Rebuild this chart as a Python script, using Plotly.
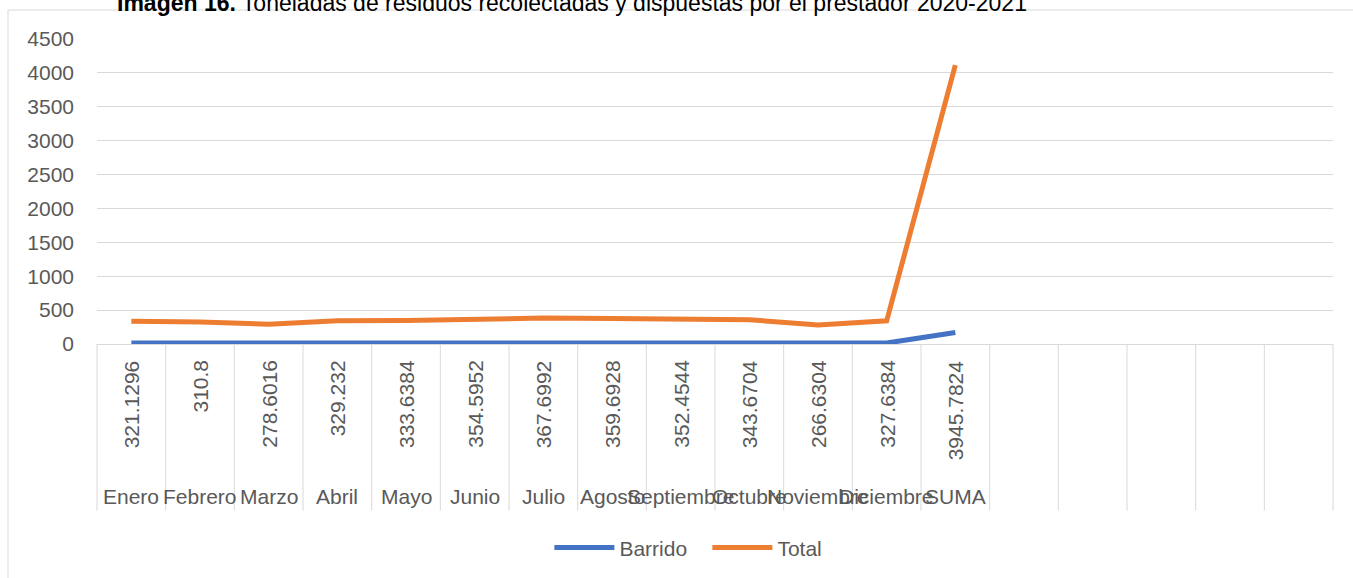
import plotly.graph_objects as go

# Months plus the annual sum, then empty slots that keep the category grid
months = ["Enero", "Febrero", "Marzo", "Abril", "Mayo", "Junio", "Julio",
          "Agosto", "Septiembre", "Octubre", "Noviembre", "Diciembre", "SUMA"]
empty_slots = [" " * (i + 1) for i in range(5)]

# Tonnes collected (shown as the inner category level)
recoleccion = [321.1296, 310.8, 278.6016, 329.232, 333.6384, 354.5952, 367.6992,
               359.6928, 352.4544, 343.6704, 266.6304, 327.6384, 3945.7824]

# Series values
barrido = [13.6, 13.6, 13.6, 14.2, 14.2, 14.2, 14.8, 14.8, 14.8, 14.2, 13.6, 14.2, 169.8]
total = [334.7, 324.4, 292.2, 343.4, 347.8, 368.8, 382.5, 374.5, 367.3, 357.9,
         280.2, 341.8, 4115.6]

categories = months + empty_slots
n_cat = len(categories)

FONT = "Liberation Sans, Arial, sans-serif"
GRID = "#d9d9d9"
TXT = "#595959"

fig = go.Figure()
fig.add_trace(go.Scatter(x=months, y=barrido, name="Barrido", mode="lines",
                         line=dict(color="#4472C4", width=5)))
fig.add_trace(go.Scatter(x=months, y=total, name="Total", mode="lines",
                         line=dict(color="#ED7D31", width=5)))

annotations = []
# Inner level: collected tonnes, rotated
for m, v in zip(months, recoleccion):
    annotations.append(dict(x=m, xref="x", y=0, yref="paper", yanchor="top",
                            yshift=-14, text=str(v), textangle=-90, showarrow=False,
                            font=dict(family=FONT, size=21, color=TXT)))
# Outer level: month names
for m in months:
    annotations.append(dict(x=m, xref="x", y=0, yref="paper", yanchor="middle",
                            yshift=-152, text=m, showarrow=False,
                            font=dict(family=FONT, size=21, color=TXT)))
# Title, partly above the top edge of the page
annotations.append(dict(
    x=0.384, xref="paper", xanchor="center", y=1.0, yref="paper", yanchor="bottom",
    yshift=21,
    text="<b>Imagen 16.</b> Toneladas de residuos recolectadas y dispuestas por el prestador 2020-2021",
    showarrow=False, font=dict(family=FONT, size=23, color="#000000")))

shapes = []
# Category dividers below the plot area
for i in range(n_cat + 1):
    shapes.append(dict(type="line", xref="paper", yref="paper",
                       x0=i / n_cat, x1=i / n_cat, y0=0, y1=-0.546,
                       line=dict(color=GRID, width=1)))
# Chart frame
shapes.append(dict(type="rect", xref="paper", yref="paper",
                   x0=-0.072, x1=1.1, y0=-0.8, y1=1.095,
                   line=dict(color=GRID, width=1), fillcolor="rgba(0,0,0,0)"))

fig.update_layout(
    width=1353, height=578, autosize=False,
    margin=dict(l=97, r=20, t=39, b=233),
    paper_bgcolor="white", plot_bgcolor="white",
    font=dict(family=FONT, size=21, color=TXT),
    xaxis=dict(type="category", categoryorder="array", categoryarray=categories,
               range=[-0.5, n_cat - 0.5], showticklabels=False, showgrid=False,
               zeroline=False, showline=False, ticks=""),
    yaxis=dict(range=[0, 4500], dtick=500, showgrid=True, gridcolor=GRID, gridwidth=1,
               zeroline=True, zerolinecolor=GRID, zerolinewidth=1, showline=False,
               ticks="", ticklabelstandoff=22,
               tickfont=dict(family=FONT, size=21, color=TXT)),
    showlegend=True,
    legend=dict(orientation="h", x=0.366, xanchor="left", y=-0.663, yanchor="middle",
                font=dict(family=FONT, size=21, color=TXT),
                entrywidth=83, entrywidthmode="pixels", itemwidth=60,
                bgcolor="rgba(0,0,0,0)"),
    annotations=annotations,
    shapes=shapes,
)

fig.write_html("out.html")
